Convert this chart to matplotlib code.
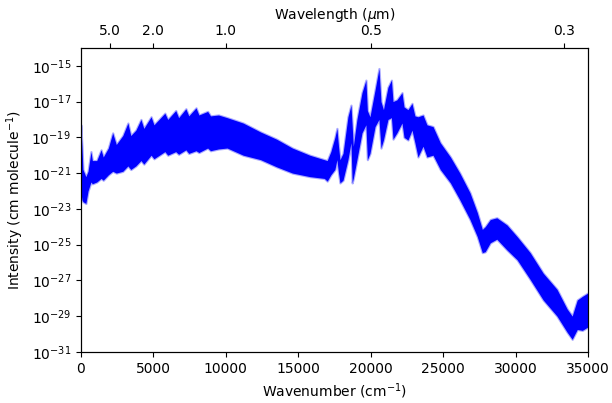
#spectrum of absorption line intensities, upper and lower envelope
import numpy as np
import matplotlib.pyplot as plt

#wavenumber grid (cm^-1) where the envelope was read
wavenumber = [0, 80, 150, 350, 500, 700, 800, 1100, 1400, 1550, 1900, 2200, 2450, 2900, 3250, 3450,
              3800, 4150, 4350, 4850, 5050, 5800, 6000, 6550, 6750, 7250, 7450, 7950, 8150, 8750, 8950,
              9500, 10100, 11200, 12400, 13500, 14600, 15800, 16800, 17000, 17250, 17530, 17670, 17780,
              17880, 18090, 18430, 18640, 18720, 18800, 19050, 19400, 19670, 19770, 19950, 20300,
              20570, 20710, 20880, 21190, 21430, 21540, 21810, 22160, 22300, 22570, 22850, 23050,
              23260, 23610, 23880, 24300, 24800, 25500, 26150, 26850, 27350, 27700,
              27900, 28250, 28700, 29400, 30100, 31000, 31900, 32850, 33550, 33900, 34250, 34600, 35000]

#log10 of the intensity, top edge of the band of lines
log_upper = [-18.3, -19.5, -20.8, -21.2, -20.9, -19.8, -20.3, -20.3, -19.7, -20.1, -19.6, -18.75, -19.4, -18.9, -18.2, -18.9,
             -18.6, -18.0, -18.5, -17.85, -18.3, -17.65, -18.0, -17.5, -17.9, -17.4, -17.8, -17.35, -17.75, -17.55, -17.8,
             -17.75, -17.9, -18.2, -18.7, -19.1, -19.6, -20.0, -20.25, -20.3, -19.8, -19.0, -18.5, -19.5,
             -20.25, -19.9, -17.85, -17.2, -18.3, -19.5, -18.0, -16.5, -15.8, -17.5, -17.85, -16.35,
             -15.15, -17.0, -17.45, -16.2, -15.8, -17.0, -16.9, -16.5, -17.3, -17.45, -17.1, -17.8,
             -17.85, -17.75, -18.3, -18.4, -19.3, -20.1, -21.0, -22.1, -23.2, -24.15,
             -24.0, -23.6, -23.5, -23.9, -24.55, -25.45, -26.6, -27.5, -28.6, -29.0, -28.1, -27.9, -27.7]

#log10 of the intensity, bottom edge of the band of lines
log_lower = [-22.0, -22.5, -22.6, -22.7, -22.0, -21.5, -21.6, -21.5, -21.3, -21.4, -21.1, -20.9, -21.0, -20.9, -20.6, -20.8,
             -20.6, -20.3, -20.5, -20.0, -20.2, -19.8, -20.0, -19.8, -19.95, -19.7, -19.9, -19.75, -19.85, -19.6, -19.75,
             -19.65, -19.6, -20.0, -20.25, -20.65, -21.0, -21.2, -21.3, -21.45, -21.1, -20.8, -20.25, -21.0,
             -21.55, -21.4, -20.25, -19.3, -21.55, -21.3, -20.25, -18.75, -18.3, -20.25, -19.9, -18.4,
             -18.0, -19.6, -19.15, -18.0, -17.9, -19.1, -18.75, -18.2, -19.0, -19.15, -18.6, -19.3,
             -20.1, -19.5, -20.1, -20.0, -20.8, -21.55, -22.5, -23.6, -24.55, -25.45,
             -25.4, -24.9, -24.7, -25.3, -25.85, -26.95, -28.1, -29.0, -29.9, -30.3, -29.75, -29.8, -29.6]

#wavelength ticks for the top axis (micrometres)
wavelength_ticks = [5.0, 2.0, 1.0, 0.5, 0.3]
wavelength_labels = ['5.0', '2.0', '1.0', '0.5', '0.3']

wn = np.array(wavenumber, dtype=float)
upper = 10.0 ** np.array(log_upper)
lower = 10.0 ** np.array(log_lower)

fig = plt.figure(figsize=(6.12, 4.03), dpi=100)
ax = fig.add_axes([0.132, 0.127, 0.829, 0.754])

#light halo like the antialiased line edges, then the solid band
ax.fill_between(wn, lower, upper, color='#aaaaff', lw=1.6, edgecolor='#aaaaff')
ax.fill_between(wn, lower, upper, color='blue', lw=0)

ax.set_yscale('log')
ax.set_xlim(0, 35000)
ax.set_ylim(1e-31, 1e-14)
ax.set_yticks([10.0 ** e for e in range(-15, -32, -2)])
ax.yaxis.set_minor_locator(plt.NullLocator())
ax.set_xlabel('Wavenumber (cm$^{-1}$)')
ax.set_ylabel('Intensity (cm molecule$^{-1}$)')

#second x axis on top showing wavelength
ax2 = ax.twiny()
ax2.set_xlim(ax.get_xlim())
ax2.set_xticks([1e4 / lam for lam in wavelength_ticks])
ax2.set_xticklabels(wavelength_labels)
ax2.set_xlabel('Wavelength ($\\mu$m)')

fig.savefig('out.png', dpi=100)
